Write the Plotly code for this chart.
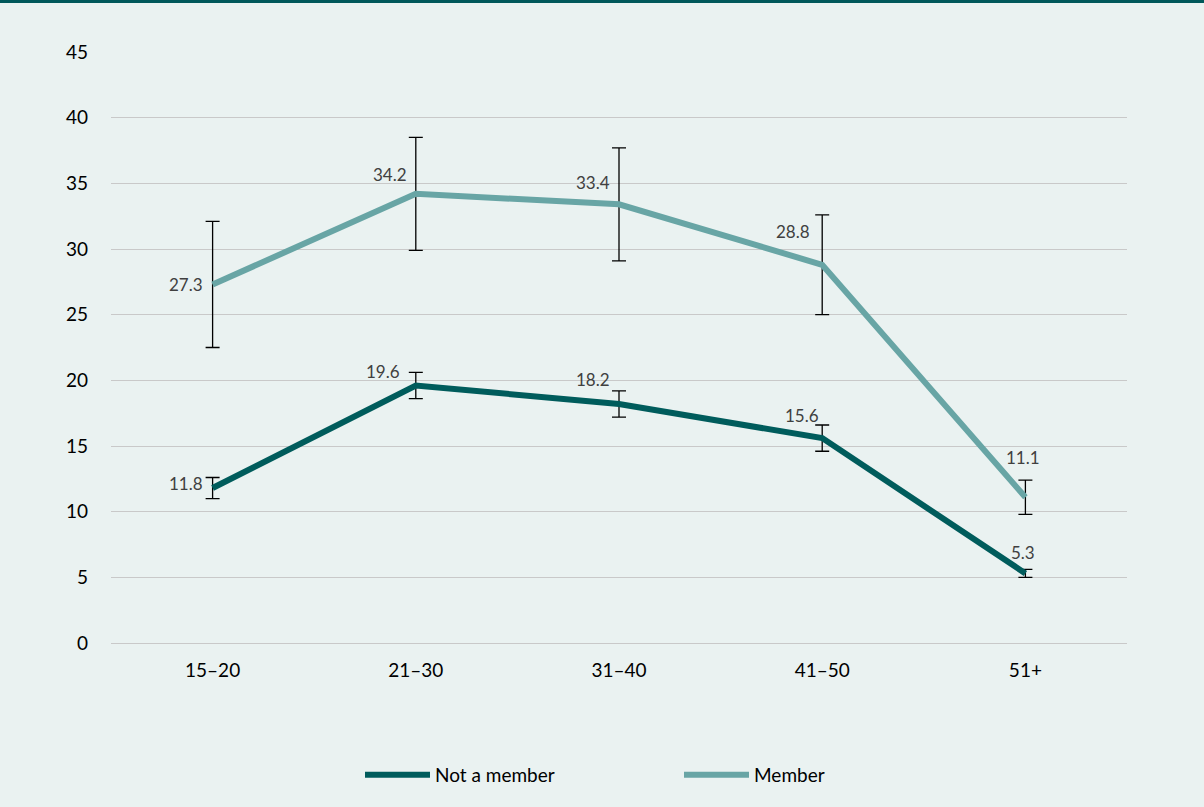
import plotly.graph_objects as go

categories = ["15–20", "21–30", "31–40", "41–50", "51+"]
not_member = [11.8, 19.6, 18.2, 15.6, 5.3]
not_member_err = [0.8, 1.0, 1.0, 1.0, 0.3]
member = [27.3, 34.2, 33.4, 28.8, 11.1]
member_err = [4.8, 4.3, 4.3, 3.8, 1.3]

# label offsets (px) relative to the point: (xanchor, xshift, yshift)
nm_label_offsets = [("right", -8, 5), ("right", -14, 14), ("right", -7, 24),
                    ("right", -1, 23), ("center", -2, 21)]
m_label_offsets = [("right", -8, 0), ("right", -7, 19), ("right", -7, 22),
                   ("right", -10, 33), ("center", -2, 40)]

DARK = "#005C5C"
LIGHT = "#68A5A5"
BG = "#EAF2F1"
FONT = "Lato, Carlito, Calibri, sans-serif"

fig = go.Figure()
for name, vals, errs, col, offs in [
        ("Not a member", not_member, not_member_err, DARK, nm_label_offsets),
        ("Member", member, member_err, LIGHT, m_label_offsets)]:
    fig.add_trace(go.Scatter(
        x=categories, y=vals, name=name, mode="lines",
        line=dict(color=col, width=6),
        error_y=dict(type="data", array=errs, visible=True, color="#000000",
                     thickness=1.3, width=7),
        cliponaxis=False,
    ))
    for c, v, (xa, xs, ys) in zip(categories, vals, offs):
        fig.add_annotation(x=c, y=v, text=f"{v:.1f}", showarrow=False,
                           xanchor=xa, yanchor="middle", xshift=xs, yshift=ys,
                           font=dict(family=FONT, size=17, color="#404040"))

fig.update_layout(
    width=1204, height=807,
    paper_bgcolor=BG, plot_bgcolor=BG,
    margin=dict(l=111, r=77, t=52, b=164),
    font=dict(family=FONT, size=19, color="#000000"),
    xaxis=dict(showgrid=False, showline=False, ticks="", tickfont=dict(size=19),
               range=[-0.5, 4.5], ticklabelstandoff=14),
    yaxis=dict(range=[0, 45], dtick=5, showgrid=True, gridcolor="#C9C9C9",
               gridwidth=1.3, zeroline=True, zerolinecolor="#C9C9C9",
               zerolinewidth=1.3, ticks="", tickfont=dict(size=19),
               ticklabelstandoff=22),
    legend=dict(orientation="h", x=(360 - 111) / 1016, xanchor="left",
                y=-0.223, yanchor="middle", font=dict(size=19),
                entrywidth=239, itemwidth=65, bgcolor="rgba(0,0,0,0)"),
    showlegend=True,
)
fig.add_shape(type="rect", xref="paper", yref="paper",
              x0=-0.2, x1=1.2, y0=1 + 49 / 591, y1=1 + 60 / 591,
              fillcolor="#00585A", line=dict(width=0), layer="above")

fig.write_html("out.html")
